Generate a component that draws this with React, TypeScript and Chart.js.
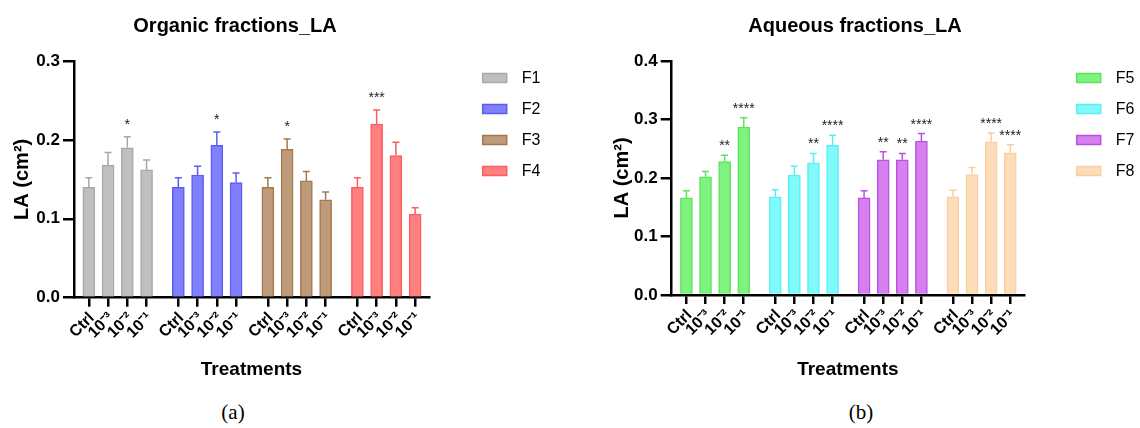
import React, { useEffect, useRef } from "react";
import { Chart, registerables } from "chart.js";

Chart.register(...registerables);

// ---------- data ----------
const treatmentLabels = ["Ctrl", "10⁻³", "10⁻²", "10⁻¹"];

const organicNames = ["F1", "F2", "F3", "F4"];
const organicF1 = [0.14, 0.168, 0.19, 0.162];
const organicF2 = [0.14, 0.1555, 0.193, 0.146];
const organicF3 = [0.14, 0.188, 0.148, 0.124];
const organicF4 = [0.14, 0.22, 0.18, 0.106];
const organicF1Err = [0.012, 0.016, 0.014, 0.0125];
const organicF2Err = [0.012, 0.011, 0.017, 0.012];
const organicF3Err = [0.012, 0.013, 0.012, 0.01];
const organicF4Err = [0.012, 0.018, 0.017, 0.008];
const organicF1Sig = ["", "", "*", ""];
const organicF2Sig = ["", "", "*", ""];
const organicF3Sig = ["", "*", "", ""];
const organicF4Sig = ["", "***", "", ""];

const aqueousNames = ["F5", "F6", "F7", "F8"];
const aqueousF5 = [0.166, 0.202, 0.228, 0.287];
const aqueousF6 = [0.168, 0.205, 0.226, 0.256];
const aqueousF7 = [0.166, 0.231, 0.231, 0.263];
const aqueousF8 = [0.168, 0.206, 0.262, 0.243];
const aqueousF5Err = [0.012, 0.009, 0.011, 0.016];
const aqueousF6Err = [0.012, 0.015, 0.016, 0.017];
const aqueousF7Err = [0.012, 0.014, 0.011, 0.013];
const aqueousF8Err = [0.011, 0.012, 0.015, 0.014];
const aqueousF5Sig = ["", "", "**", "****"];
const aqueousF6Sig = ["", "", "**", "****"];
const aqueousF7Sig = ["", "**", "**", "****"];
const aqueousF8Sig = ["", "", "****", "****"];

const organicTicks = [0, 0.1, 0.2, 0.3];
const aqueousTicks = [0, 0.1, 0.2, 0.3, 0.4];

// ---------- styles ----------
const SANS = "'Liberation Sans', Arial, sans-serif";
const SERIF = "'Liberation Serif', 'Times New Roman', serif";
const organicFills = ["rgb(191,191,191)", "rgb(128,128,255)", "rgb(190,155,122)", "rgb(255,128,128)"];
const organicBorders = ["rgb(168,168,168)", "rgb(92,92,240)", "rgb(165,120,80)", "rgb(255,92,92)"];
const aqueousFills = ["rgb(128,242,128)", "rgb(128,250,250)", "rgb(214,128,240)", "rgb(253,220,186)"];
const aqueousBorders = ["rgb(92,228,92)", "rgb(92,238,245)", "rgb(185,82,226)", "rgb(250,206,162)"];

const GAP = 0.65;
const barX = (g: number, i: number) => g * (4 + GAP) + i;
const tickPositions: number[] = [];
for (let g = 0; g < 4; g++) for (let i = 0; i < 4; i++) tickPositions.push(barX(g, i));

const errorStarPlugin = {
  id: "errorStars",
  afterDatasetsDraw(chart: any, _args: any, opts: any) {
    const ctx = chart.ctx;
    const yS = chart.scales.y;
    ctx.save();
    chart.data.datasets.forEach((ds: any, di: number) => {
      const meta = chart.getDatasetMeta(di);
      meta.data.forEach((bar: any, i: number) => {
        const v = ds.data[i].y;
        const e = ds.errors[i];
        const top = yS.getPixelForValue(v);
        const capY = yS.getPixelForValue(v + e);
        ctx.strokeStyle = ds.borderColor;
        ctx.lineWidth = 1.5;
        ctx.beginPath();
        ctx.moveTo(bar.x, top);
        ctx.lineTo(bar.x, capY);
        ctx.moveTo(bar.x - 3.5, capY);
        ctx.lineTo(bar.x + 3.5, capY);
        ctx.stroke();
        if (ds.stars[i]) {
          ctx.fillStyle = "#222";
          ctx.font = `14px ${SANS}`;
          ctx.textAlign = "center";
          ctx.textBaseline = "alphabetic";
          ctx.fillText(ds.stars[i], bar.x, capY - opts.starGap);
        }
      });
    });
    ctx.restore();
  },
};

const boxLegendPlugin = {
  id: "boxLegend",
  afterDraw(chart: any, _args: any, opts: any) {
    const ctx = chart.ctx;
    ctx.save();
    chart.data.datasets.forEach((ds: any, i: number) => {
      const y = opts.y + i * opts.step;
      ctx.fillStyle = ds.backgroundColor;
      ctx.strokeStyle = ds.borderColor;
      ctx.lineWidth = 1.5;
      ctx.fillRect(opts.x, y - opts.boxH / 2, opts.boxW, opts.boxH);
      ctx.strokeRect(opts.x, y - opts.boxH / 2, opts.boxW, opts.boxH);
      ctx.fillStyle = "#000";
      ctx.font = `16px ${SANS}`;
      ctx.textAlign = "left";
      ctx.textBaseline = "middle";
      ctx.fillText(ds.label, opts.x + opts.boxW + opts.textGap, y + 1);
    });
    ctx.restore();
  },
};

type PanelProps = {
  names: string[];
  means: number[][];
  errs: number[][];
  sigs: string[][];
  fills: string[];
  borders: string[];
  yTicks: number[];
  width: number;
  height: number;
  padLeft: number;
  padRight: number;
  padTop: number;
  padBottom: number;
  yWidth: number;
  xHeight: number;
  legendX: number;
  starGap: number;
};

function BarPanel(p: PanelProps) {
  const ref = useRef<HTMLCanvasElement | null>(null);
  useEffect(() => {
    if (!ref.current) return;
    const datasets = p.names.map((name, g) => ({
      label: name,
      data: p.means[g].map((v, i) => ({ x: barX(g, i), y: v })),
      errors: p.errs[g],
      stars: p.sigs[g],
      backgroundColor: p.fills[g],
      borderColor: p.borders[g],
      borderWidth: 1.5,
      barThickness: 12,
      grouped: false,
    }));
    const yMax = p.yTicks[p.yTicks.length - 1];
    const chart = new Chart(ref.current, {
      type: "bar",
      data: { datasets } as any,
      options: {
        responsive: false,
        animation: false,
        layout: { padding: { left: p.padLeft, right: p.padRight, top: p.padTop, bottom: p.padBottom } },
        plugins: {
          legend: { display: false },
          tooltip: { enabled: false },
          errorStars: { starGap: p.starGap },
          boxLegend: { x: p.legendX, y: 78, step: 31, boxW: 24, boxH: 9, textGap: 15 },
        } as any,
        scales: {
          x: {
            type: "linear",
            offset: false,
            min: -0.77,
            max: 15 + 3 * GAP + 0.72,
            afterBuildTicks: (s: any) => {
              s.ticks = tickPositions.map((v) => ({ value: v }));
            },
            afterFit: (s: any) => {
              s.height = p.xHeight;
            },
            grid: {
              display: true,
              offset: false,
              drawOnChartArea: false,
              drawTicks: true,
              tickLength: 9,
              color: "#000",
              lineWidth: 2.5,
            },
            border: { display: true, color: "#000", width: 2.5 },
            ticks: {
              autoSkip: false,
              minRotation: 45,
              maxRotation: 45,
              padding: 2,
              labelOffset: 3,
              color: "#000",
              font: { family: SANS, size: 16, weight: "bold" },
              callback: (_v: any, i: number) => treatmentLabels[i % 4],
            },
            title: {
              display: true,
              text: "Treatments",
              color: "#000",
              font: { family: SANS, size: 19, weight: "bold" },
              padding: { top: 4, bottom: 4 },
            },
          },
          y: {
            min: 0,
            max: yMax,
            afterBuildTicks: (s: any) => {
              s.ticks = p.yTicks.map((v) => ({ value: v }));
            },
            afterFit: (s: any) => {
              s.width = p.yWidth;
            },
            grid: { display: true, drawOnChartArea: false, drawTicks: true, tickLength: 11, color: "#000", lineWidth: 2.5 },
            border: { display: true, color: "#000", width: 2.5 },
            ticks: {
              padding: 3,
              color: "#000",
              font: { family: SANS, size: 17, weight: "bold" },
              callback: (v: any) => Number(v).toFixed(1),
            },
            title: {
              display: true,
              text: "LA (cm²)",
              color: "#000",
              font: { family: SANS, size: 20, weight: "bold" },
              padding: { top: 4, bottom: 4 },
            },
          },
        },
      } as any,
      plugins: [errorStarPlugin, boxLegendPlugin] as any,
    });
    return () => chart.destroy();
  }, []);
  return <canvas ref={ref} width={p.width} height={p.height} style={{ width: p.width, height: p.height, display: "block" }} />;
}

const titleStyle: React.CSSProperties = {
  position: "absolute",
  top: 12,
  height: 26,
  lineHeight: "26px",
  textAlign: "center",
  fontFamily: SANS,
  fontWeight: "bold",
  fontSize: 20,
  color: "#000",
  whiteSpace: "nowrap",
};

const captionStyle: React.CSSProperties = {
  position: "absolute",
  top: 398,
  height: 28,
  lineHeight: "28px",
  textAlign: "center",
  fontFamily: SERIF,
  fontSize: 21,
  color: "#000",
};

export default function App() {
  return (
    <div style={{ position: "absolute", left: 0, top: 0, width: 1140, height: 428, background: "#fff", overflow: "hidden" }}>
      <div style={{ position: "absolute", left: 0, top: 0 }}>
        <BarPanel
          names={organicNames}
          means={[organicF1, organicF2, organicF3, organicF4]}
          errs={[organicF1Err, organicF2Err, organicF3Err, organicF4Err]}
          sigs={[organicF1Sig, organicF2Sig, organicF3Sig, organicF4Sig]}
          fills={organicFills}
          borders={organicBorders}
          yTicks={organicTicks}
          width={560}
          height={392}
          padLeft={6.5}
          padRight={131}
          padTop={61}
          padBottom={6.6}
          yWidth={67.5}
          xHeight={87.7}
          legendX={482.7}
          starGap={8}
        />
      </div>
      <div style={{ position: "absolute", left: 570, top: 0 }}>
        <BarPanel
          names={aqueousNames}
          means={[aqueousF5, aqueousF6, aqueousF7, aqueousF8]}
          errs={[aqueousF5Err, aqueousF6Err, aqueousF7Err, aqueousF8Err]}
          sigs={[aqueousF5Sig, aqueousF6Sig, aqueousF7Sig, aqueousF8Sig]}
          fills={aqueousFills}
          borders={aqueousBorders}
          yTicks={aqueousTicks}
          width={570}
          height={392}
          padLeft={36.5}
          padRight={116}
          padTop={61}
          padBottom={6.6}
          yWidth={65.2}
          xHeight={90.4}
          legendX={506.7}
          starGap={5}
        />
      </div>
      <div style={{ ...titleStyle, left: 35, width: 400 }}>Organic fractions_LA</div>
      <div style={{ ...titleStyle, left: 655, width: 400 }}>Aqueous fractions_LA</div>
      <div style={{ ...captionStyle, left: 183, width: 100 }}>(a)</div>
      <div style={{ ...captionStyle, left: 811, width: 100 }}>(b)</div>
    </div>
  );
}
